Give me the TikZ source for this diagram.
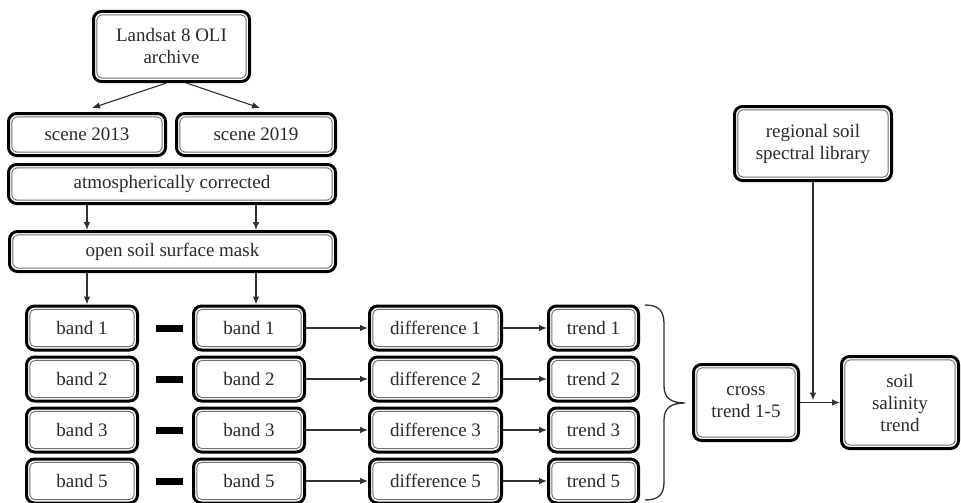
\documentclass[tikz,border=0pt]{standalone}
\usepackage{fontspec}
\setmainfont{Liberation Serif}
\usetikzlibrary{arrows.meta}
\definecolor{txt}{HTML}{2A2A2A}
\definecolor{innerc}{HTML}{707070}
\definecolor{arrc}{HTML}{303030}
\begin{document}
\begin{tikzpicture}[x=1pt,y=-1pt,
 box/.style={draw=black, line width=3pt, rounded corners=8pt, fill=white, align=center, text=txt,
   font=\fontsize{19}{22}\selectfont, inner sep=0pt,
   path picture={\draw[line width=0.9pt, draw=innerc, rounded corners=5pt]
     ([shift={(3.4pt,3.4pt)}]path picture bounding box.south west) rectangle
     ([shift={(-3.4pt,-3.4pt)}]path picture bounding box.north east);}},
 arr/.style={draw=arrc, line width=1.1pt, -{Latex[length=8pt,width=6.5pt]}},
 minus/.style={fill=black, minimum width=27pt, minimum height=7pt, inner sep=0pt},
 brc/.style={draw=arrc, line width=1.3pt},
 bandbox/.style={box, minimum width=111pt, minimum height=44pt},
 diffbox/.style={box, minimum width=132pt, minimum height=44pt},
 trendbox/.style={box, minimum width=90pt, minimum height=44pt},
]
\useasboundingbox (0,0) rectangle (961,503);

\node[box, minimum width=156pt, minimum height=70pt] (landsat) at (171.5,46.5) {Landsat 8 OLI\\archive};
\node[box, minimum width=157pt, minimum height=42pt] (s2013) at (87,134.5) {scene 2013};
\node[box, minimum width=159pt, minimum height=42pt] (s2019) at (256,134.5) {scene 2019};
\node[box, minimum width=327pt, minimum height=39pt] (atmos) at (172,184) {atmospherically corrected};
\node[box, minimum width=326pt, minimum height=40pt] (mask) at (172.5,251.5) {open soil surface mask};

\foreach \i/\y/\n in {1/328/1, 2/379/2, 3/430/3, 4/481/5} {
  \node[bandbox] (bl\i) at (82,\y) {band \n};
  \node[minus] (m\i) at (169.5,\y) {};
  \node[bandbox] (br\i) at (249,\y) {band \n};
  \node[diffbox] (d\i) at (435.5,\y) {difference \n};
  \node[trendbox] (t\i) at (593.5,\y) {trend \n};
  \draw[arr] (br\i) -- (d\i);
  \draw[arr] (d\i) -- (t\i);
}

\node[box, minimum width=157pt, minimum height=74pt] (lib) at (813,143.5) {regional soil\\spectral library};
\node[box, minimum width=105pt, minimum height=76pt] (cross) at (746,402.5) {cross\\trend 1-5};
\node[box, minimum width=117pt, minimum height=92pt] (sal) at (900,402.5) {soil\\salinity\\trend};

\draw[arr] ([xshift=-5pt]landsat.south) -- ([shift={(5pt,4pt)}]s2013.north);
\draw[arr] ([xshift=15pt]landsat.south) -- ([shift={(4pt,4pt)}]s2019.north);
\draw[arr] (atmos.south -| s2013) -- (mask.north -| s2013);
\draw[arr] (atmos.south -| s2019) -- (mask.north -| s2019);
\draw[arr] (mask.south -| s2013) -- (bl1.north -| s2013);
\draw[arr] (mask.south -| s2019) -- (br1.north -| s2019);

\coordinate (jn) at (lib.south |- cross.east);
\draw[arr] (cross.east) -- (sal.west);
\draw[arr] (lib.south) -- ([yshift=2pt]jn);

\draw[brc] (645,305) .. controls (659,305) and (664,311) .. (664,324) -- (664,386)
  .. controls (664,398) and (671,403) .. (685,403)
  .. controls (671,403) and (664,408) .. (664,420) -- (664,482)
  .. controls (664,494) and (659,500) .. (645,500);
\end{tikzpicture}
\end{document}
